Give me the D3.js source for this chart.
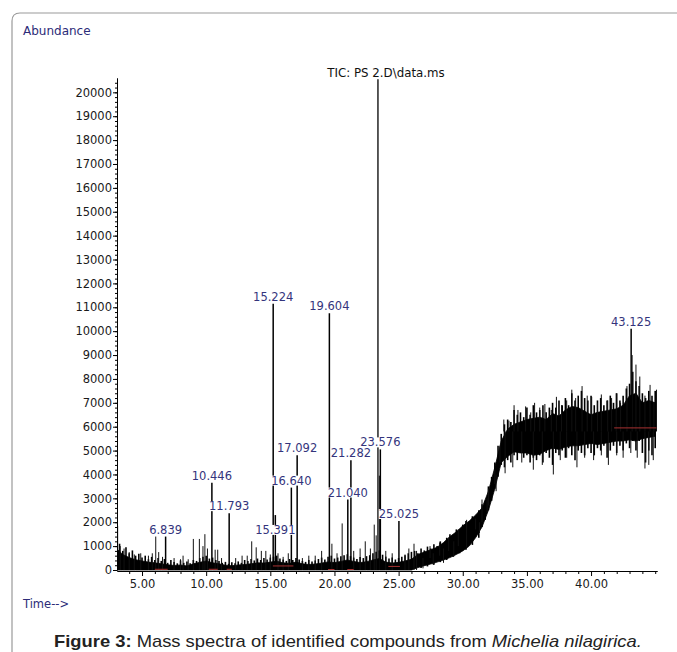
<!DOCTYPE html>
<html>
<head>
<meta charset="utf-8">
<title>TIC chromatogram</title>
<script src="https://cdnjs.cloudflare.com/ajax/libs/d3/7.8.5/d3.min.js"></script>
<style>
body { margin: 0; background: #fff; }
svg { display: block; }
</style>
</head>
<body>
<svg id="chart"></svg>
<script>

// labelled peaks: retention time (min), abundance at top and at foot
var peakLabels = ["6.839", "10.446", "11.793", "15.224", "15.391", "16.640", "17.092",
                  "19.604", "21.040", "21.282", "23.576", "25.025", "43.125"];
var peakTimes = [6.839, 10.446, 11.793, 15.224, 15.391, 16.640, 17.092,
                 19.604, 21.040, 21.282, 23.576, 25.025, 43.125];
var peakHeights = [1400, 3650, 2380, 11150, 2300, 3450, 4800,
                   10750, 2950, 4600, 5050, 2050, 10100];
var peakBase = [0, 0, 0, 0, 0, 0, 0, 0, 0, 0, 0, 0, 6000];
// 15.391 label sits lower than its peak in the original
var labelLevel = {"15.391": 1510};

// tall unlabelled peak under the title
var mainPeakTime = 23.39;
var mainPeakHeight = 20550;

// solid core of the signal, read every half minute
var envTimes = [3.1, 3.5, 4.0, 4.5, 5.0, 5.5, 6.0, 6.5, 7.0, 7.5, 8.0, 8.5, 9.0, 9.5, 10.0, 10.5,
  11.0, 11.5, 12.0, 12.5, 13.0, 13.5, 14.0, 14.5, 15.0, 15.5, 16.0, 16.5, 17.0, 17.5, 18.0, 18.5,
  19.0, 19.5, 20.0, 20.5, 21.0, 21.5, 22.0, 22.5, 23.0, 23.5, 24.0, 24.5, 25.0, 25.5, 26.0, 26.5,
  27.0, 27.5, 28.0, 28.5, 29.0, 29.5, 30.0, 30.5, 31.0, 31.5, 32.0, 32.5, 33.0, 33.5, 34.0, 34.5,
  35.0, 35.5, 36.0, 36.5, 37.0, 37.5, 38.0, 38.5, 39.0, 39.5, 40.0, 40.5, 41.0, 41.5, 42.0, 42.5,
  43.0, 43.5, 44.0, 44.5, 45.0];
var envHigh = [850, 650, 520, 430, 380, 330, 300, 260, 220, 190, 210, 170, 260, 320, 380, 300,
  260, 200, 180, 210, 230, 260, 300, 290, 330, 370, 300, 280, 330, 260, 230, 250,
  290, 340, 310, 360, 420, 360, 310, 350, 420, 480, 330, 290, 320, 380, 450, 650,
  750, 850, 950, 1150, 1400, 1600, 1850, 2050, 2300, 2600, 3300, 4300, 5400, 5900, 6100, 6200,
  6300, 6350, 6400, 6300, 6550, 6450, 6700, 6850, 6800, 6650, 6500, 6600, 6650, 6700, 6750, 6900,
  7300, 7400, 7000, 7100, 7000];
var envLow = [0, 0, 0, 0, 0, 0, 0, 0, 0, 0, 0, 0, 0, 0, 0, 0,
  0, 0, 0, 0, 0, 0, 0, 0, 0, 0, 0, 0, 0, 0, 0, 0,
  0, 0, 0, 0, 0, 0, 0, 0, 0, 0, 0, 0, 0, 0, 0, 100,
  180, 250, 330, 420, 520, 650, 800, 1000, 1350, 1800, 2500, 3400, 4500, 4750, 4950, 4900,
  4900, 4800, 4850, 5000, 5100, 5050, 5150, 5200, 5200, 5250, 5300, 5250, 5300, 5350, 5400, 5400,
  5450, 5400, 5500, 5550, 5600];

// ragged scan-to-scan range, read every quarter minute
var scanTimes = [3.25, 3.5, 3.75, 4.0, 4.25, 4.5, 4.75, 5.0,
  5.25, 5.5, 5.75, 6.0, 6.25, 6.5, 6.75, 7.0,
  7.25, 7.5, 7.75, 8.0, 8.25, 8.5, 8.75, 9.0,
  9.25, 9.5, 9.75, 10.0, 10.25, 10.5, 10.75, 11.0,
  11.25, 11.5, 11.75, 12.0, 12.25, 12.5, 12.75, 13.0,
  13.25, 13.5, 13.75, 14.0, 14.25, 14.5, 14.75, 15.0,
  15.25, 15.5, 15.75, 16.0, 16.25, 16.5, 16.75, 17.0,
  17.25, 17.5, 17.75, 18.0, 18.25, 18.5, 18.75, 19.0,
  19.25, 19.5, 19.75, 20.0, 20.25, 20.5, 20.75, 21.0,
  21.25, 21.5, 21.75, 22.0, 22.25, 22.5, 22.75, 23.0,
  23.25, 23.5, 23.75, 24.0, 24.25, 24.5, 24.75, 25.0,
  25.25, 25.5, 25.75, 26.0, 26.25, 26.5, 26.75, 27.0,
  27.25, 27.5, 27.75, 28.0, 28.25, 28.5, 28.75, 29.0,
  29.25, 29.5, 29.75, 30.0, 30.25, 30.5, 30.75, 31.0,
  31.25, 31.5, 31.75, 32.0, 32.25, 32.5, 32.75, 33.0,
  33.25, 33.5, 33.75, 34.0, 34.25, 34.5, 34.75, 35.0,
  35.25, 35.5, 35.75, 36.0, 36.25, 36.5, 36.75, 37.0,
  37.25, 37.5, 37.75, 38.0, 38.25, 38.5, 38.75, 39.0,
  39.25, 39.5, 39.75, 40.0, 40.25, 40.5, 40.75, 41.0,
  41.25, 41.5, 41.75, 42.0, 42.25, 42.5, 42.75, 43.0,
  43.25, 43.5, 43.75, 44.0, 44.25, 44.5, 44.75, 45.0];
var scanHigh = [1100, 800, 950, 700, 820, 600, 680, 520,
  600, 450, 550, 420, 500, 380, 460, 300,
  420, 330, 280, 400, 300, 360, 280, 420,
  380, 500, 560, 600, 480, 520, 420, 380,
  300, 340, 260, 320, 280, 360, 300, 420,
  380, 460, 400, 480, 420, 500, 440, 520,
  560, 600, 480, 440, 380, 460, 420, 500,
  440, 380, 340, 420, 360, 400, 460, 520,
  440, 560, 600, 480, 520, 580, 620, 660,
  580, 520, 460, 540, 500, 580, 620, 700,
  760, 820, 640, 560, 480, 520, 440, 500,
  560, 620, 700, 760, 800, 700, 900, 820,
  980, 900, 1080, 1000, 1200, 1120, 1350, 1500,
  1420, 1700, 1620, 1900, 2050, 1980, 2250, 2200,
  2500, 2750, 2900, 3500, 3900, 4500, 5200, 5700,
  6100, 6300, 6200, 6700, 6500, 6600, 6400, 6800,
  6500, 6900, 6600, 6700, 6900, 6600, 6800, 7000,
  6800, 7100, 6900, 7200, 6900, 7400, 7100, 7300,
  7500, 7200, 7100, 7300, 6900, 7100, 7200, 6900,
  7100, 7300, 7000, 7400, 7100, 7300, 7600, 7800,
  8300, 7900, 7700, 7400, 7200, 7500, 7300, 7500];
var scanLow = [0, 0, 0, 0, 0, 0, 0, 0,
  0, 0, 0, 0, 0, 0, 0, 0,
  0, 0, 0, 0, 0, 0, 0, 0,
  0, 0, 0, 0, 0, 0, 0, 0,
  0, 0, 0, 0, 0, 0, 0, 0,
  0, 0, 0, 0, 0, 0, 0, 0,
  0, 0, 0, 0, 0, 0, 0, 0,
  0, 0, 0, 0, 0, 0, 0, 0,
  0, 0, 0, 0, 0, 0, 0, 0,
  0, 0, 0, 0, 0, 0, 0, 0,
  0, 0, 0, 0, 0, 0, 0, 0,
  0, 0, 0, 0, 60, 120, 80, 200,
  150, 280, 220, 380, 330, 480, 420, 600,
  560, 760, 700, 900, 850, 1100, 1050, 1400,
  1350, 1800, 2100, 2500, 2900, 3400, 3900, 4400,
  4300, 4600, 4500, 4800, 4600, 4900, 4700, 4800,
  4500, 4700, 4600, 4800, 4500, 4900, 4700, 4400,
  4900, 4800, 5000, 4700, 5100, 4800, 4600, 5000,
  4900, 4800, 5100, 4900, 4800, 5100, 5000, 5200,
  4700, 5000, 5200, 4900, 5200, 5000, 5300, 5100,
  5400, 5000, 5400, 4900, 4500, 5000, 4800, 5100];

// single scans sticking out further: time, bottom, top
var spikeTimes = [3.1, 3.3, 3.6, 4.0, 4.4, 4.9, 5.5, 5.8, 6.07, 6.3, 6.6, 7.5, 8.0, 8.2, 8.6,
  9.0, 9.47, 9.75, 9.9, 10.1, 10.7, 10.9, 11.2, 12.3, 12.8, 13.2, 13.55, 13.9, 14.3, 14.65,
  15.0, 15.6, 16.0, 16.4, 17.5, 18.0, 18.5, 19.0, 19.8, 20.2, 20.6, 21.5, 22.0, 22.4, 22.8,
  23.1, 23.25, 23.5, 24.0, 24.5, 25.5, 25.8, 26.2, 26.4,
  27.45, 28.2, 28.9, 29.65, 30.3, 31.0, 31.5, 32.0, 32.5, 32.9,
  26.9, 27.7, 28.5, 29.3, 30.3, 31.3, 31.9, 32.6,
  33.2, 33.6, 34.0, 34.3, 34.9, 35.3, 35.6, 36.0, 36.4, 36.9, 37.3, 37.7, 38.1, 38.5, 38.8,
  39.3, 39.7, 40.05, 40.5, 40.8, 41.3, 41.6, 41.96, 42.3, 42.8, 43.2, 43.5, 43.8, 44.2, 44.6,
  44.9, 45.1,
  33.3, 33.9, 34.6, 35.5, 36.2, 37.06, 37.6, 38.1, 38.9, 39.5, 40.2, 40.8, 41.35, 42.0, 42.5,
  43.1, 43.6, 44.2, 44.5, 44.85];
var spikeLow = [0, 0, 0, 0, 0, 0, 0, 0, 0, 0, 0, 0, 0, 0, 0,
  0, 0, 0, 0, 0, 0, 0, 0, 0, 0, 0, 0, 0, 0, 0,
  0, 0, 0, 0, 0, 0, 0, 0, 0, 0, 0, 0, 0, 0, 0,
  0, 0, 0, 0, 0, 0, 0, 0, 0,
  500, 600, 800, 1000, 1300, 1700, 2000, 2700, 3600, 4500,
  70, 210, 300, 560, 950, 1550, 2400, 3300,
  5800, 5800, 5800, 5800, 5800, 5800, 5800, 5800, 5800, 5800, 5800, 5800, 5800, 5800, 5800,
  5800, 5800, 5800, 5800, 5800, 5800, 5800, 5800, 5800, 5800, 5800, 5800, 5800, 5800, 5800,
  5800, 5800,
  4050, 4300, 4500, 4200, 4400, 4000, 4600, 4700, 4300, 4700, 4600, 4800, 4400, 4800, 4700,
  4900, 4700, 4250, 4400, 4600];
var spikeHigh = [1850, 1000, 900, 750, 650, 700, 600, 700, 1400, 750, 550, 500, 450, 600, 450,
  1300, 1300, 1000, 1500, 900, 850, 850, 500, 500, 600, 600, 1200, 950, 800, 800,
  650, 700, 550, 700, 500, 600, 600, 800, 1100, 700, 1950, 800, 900, 1200, 900,
  1900, 1450, 3950, 800, 700, 650, 900, 1100, 800,
  1000, 1150, 1350, 1700, 2100, 2150, 2950, 3400, 4200, 5200,
  500, 700, 900, 1200, 1500, 2000, 3000, 4000,
  6300, 6250, 6900, 6700, 6850, 6600, 7000, 6800, 6950, 6700, 7250, 6900, 7100, 7550, 7200,
  7700, 7300, 7250, 7000, 7350, 7100, 7200, 7400, 7000, 7700, 9000, 8600, 8100, 7300, 7750,
  7000, 7550,
  5800, 5800, 5800, 5800, 5800, 5800, 5800, 5800, 5800, 5800, 5800, 5800, 5800, 5800, 5800,
  5800, 5800, 5800, 5800, 5800];

// integration baselines (red)
var baseStart = [6.0, 10.2, 11.6, 15.2, 19.5, 21.0, 24.2, 41.8];
var baseEnd = [7.0, 10.9, 12.0, 16.8, 20.0, 21.5, 25.1, 45.1];
var baseLevel = [30, 30, 30, 170, 20, 20, 150, 5950];

// axis ticks
var xTicks = [5, 10, 15, 20, 25, 30, 35, 40];
var xMinor = [4, 6, 7, 8, 9, 11, 12, 13, 14, 16, 17, 18, 19, 21, 22, 23, 24, 26, 27, 28, 29,
  31, 32, 33, 34, 36, 37, 38, 39, 41, 42, 43, 44, 45];
var yTicks = [0, 1000, 2000, 3000, 4000, 5000, 6000, 7000, 8000, 9000, 10000,
  11000, 12000, 13000, 14000, 15000, 16000, 17000, 18000, 19000, 20000];

var W = 677, H = 652;
var font = "'DejaVu Sans', Verdana, sans-serif";

var svg = d3.select("#chart")
  .attr("width", W)
  .attr("height", H);

// frame with rounded top-left corner
svg.append("path")
  .attr("d", "M12,700 V21 Q12,13 20,13 H700")
  .attr("fill", "none")
  .attr("stroke", "#9a9a9a")
  .attr("stroke-width", 1.2);

var x = d3.scaleLinear().domain([3.05, 45.14]).range([117, 657]);
var y = d3.scaleLinear().domain([0, 20600]).range([570, 78]);

// signal core
var area = d3.area()
  .x(function(d, i) { return x(envTimes[i]); })
  .y0(function(d, i) { return y(envLow[i]); })
  .y1(function(d, i) { return y(envHigh[i]); });

svg.append("path")
  .datum(envTimes)
  .attr("d", area)
  .attr("fill", "#000")
  .attr("stroke", "#000")
  .attr("stroke-width", 0.8);

// ragged scans
svg.selectAll("line.scan")
  .data(scanTimes)
  .enter().append("line")
    .attr("class", "scan")
    .attr("x1", function(d) { return x(d); })
    .attr("x2", function(d) { return x(d); })
    .attr("y1", function(d, i) { return y(scanLow[i]); })
    .attr("y2", function(d, i) { return y(scanHigh[i]); })
    .attr("stroke", "#000")
    .attr("stroke-width", 1.6);

// noise spikes
svg.selectAll("line.spike")
  .data(spikeTimes)
  .enter().append("line")
    .attr("class", "spike")
    .attr("x1", function(d) { return x(d); })
    .attr("x2", function(d) { return x(d); })
    .attr("y1", function(d, i) { return y(spikeLow[i]); })
    .attr("y2", function(d, i) { return y(spikeHigh[i]); })
    .attr("stroke", "#111")
    .attr("stroke-width", 1);

// peaks
svg.selectAll("line.peak")
  .data(peakTimes)
  .enter().append("line")
    .attr("class", "peak")
    .attr("x1", function(d) { return x(d); })
    .attr("x2", function(d) { return x(d); })
    .attr("y1", function(d, i) { return y(peakBase[i]); })
    .attr("y2", function(d, i) { return y(peakHeights[i]); })
    .attr("stroke", "#000")
    .attr("stroke-width", 1.5);

svg.append("line")
  .attr("x1", x(mainPeakTime)).attr("x2", x(mainPeakTime))
  .attr("y1", y(0)).attr("y2", y(mainPeakHeight))
  .attr("stroke", "#000")
  .attr("stroke-width", 1.3);

// red integration baselines
svg.selectAll("line.base")
  .data(baseStart)
  .enter().append("line")
    .attr("class", "base")
    .attr("x1", function(d) { return x(d); })
    .attr("x2", function(d, i) { return x(baseEnd[i]); })
    .attr("y1", function(d, i) { return y(baseLevel[i]); })
    .attr("y2", function(d, i) { return y(baseLevel[i]); })
    .attr("stroke", "#a83232")
    .attr("stroke-width", 1);

// peak labels on small white plates
var labels = svg.selectAll("g.plabel")
  .data(peakLabels)
  .enter().append("g")
    .attr("class", "plabel");

labels.append("text")
  .attr("x", function(d, i) { return x(peakTimes[i]); })
  .attr("y", function(d, i) {
    var lv = labelLevel[d];
    return lv !== undefined ? y(lv) : y(peakHeights[i]) - 3;
  })
  .attr("text-anchor", "middle")
  .attr("font-family", font)
  .attr("font-size", 11.5)
  .attr("fill", "#34347c")
  .text(function(d) { return d; });

labels.each(function() {
  var g = d3.select(this);
  var t = g.select("text");
  var b = t.node().getBBox();
  var base = +t.attr("y");
  g.insert("rect", "text")
    .attr("x", b.x)
    .attr("y", base - 9)
    .attr("width", b.width)
    .attr("height", 10)
    .attr("fill", "#fff");
});

// axes
var yAxis = d3.axisLeft(y)
  .tickValues(yTicks)
  .tickSize(4)
  .tickSizeOuter(0)
  .tickPadding(1)
  .tickFormat(d3.format("d"));

var yMinor = d3.axisLeft(y)
  .tickValues(d3.range(0, 20600, 200))
  .tickSize(2)
  .tickSizeOuter(0)
  .tickFormat("");

svg.append("g")
  .attr("transform", "translate(117,0)")
  .call(yMinor);

svg.append("g")
  .attr("transform", "translate(117,0)")
  .call(yAxis);

var xAxis = d3.axisBottom(x)
  .tickValues(xTicks)
  .tickSize(5)
  .tickSizeOuter(0)
  .tickPadding(4)
  .tickFormat(d3.format(".2f"));

var xMinorAxis = d3.axisBottom(x)
  .tickValues(xMinor)
  .tickSize(3)
  .tickSizeOuter(0)
  .tickFormat("");

svg.append("g")
  .attr("transform", "translate(0,571)")
  .call(xMinorAxis);

svg.append("g")
  .attr("transform", "translate(0,571)")
  .call(xAxis);

svg.selectAll(".tick text")
  .attr("font-family", font)
  .attr("font-size", 11.5)
  .attr("fill", "#1a1a1a");
svg.selectAll(".domain, .tick line")
  .attr("stroke", "#000");

// titles
svg.append("text")
  .attr("x", 386)
  .attr("y", 77)
  .attr("text-anchor", "middle")
  .attr("font-family", font)
  .attr("font-size", 11.8)
  .attr("fill", "#111")
  .text("TIC: PS 2.D\\data.ms");

svg.append("text")
  .attr("x", 23)
  .attr("y", 34.5)
  .attr("font-family", font)
  .attr("font-size", 12)
  .attr("fill", "#2c2c78")
  .text("Abundance");

svg.append("text")
  .attr("x", 23)
  .attr("y", 608)
  .attr("font-family", font)
  .attr("font-size", 11.5)
  .attr("fill", "#2c2c78")
  .text("Time-->");

// caption
var cap = svg.append("text")
  .attr("y", 647)
  .attr("font-family", "'Liberation Sans', Arial, sans-serif")
  .attr("font-size", 16)
  .attr("fill", "#222");
cap.append("tspan").attr("font-weight", "bold").text("Figure 3:");
cap.append("tspan").text(" Mass spectra of identified compounds from ");
cap.append("tspan").attr("font-style", "italic").text("Michelia nilagirica.");

var cw = cap.node().getBBox().width;
var left = 54, right = 642;
cap.attr("transform", "translate(" + left + ",0) scale(" + ((right - left) / cw) + ",1)");

</script>
</body>
</html>
